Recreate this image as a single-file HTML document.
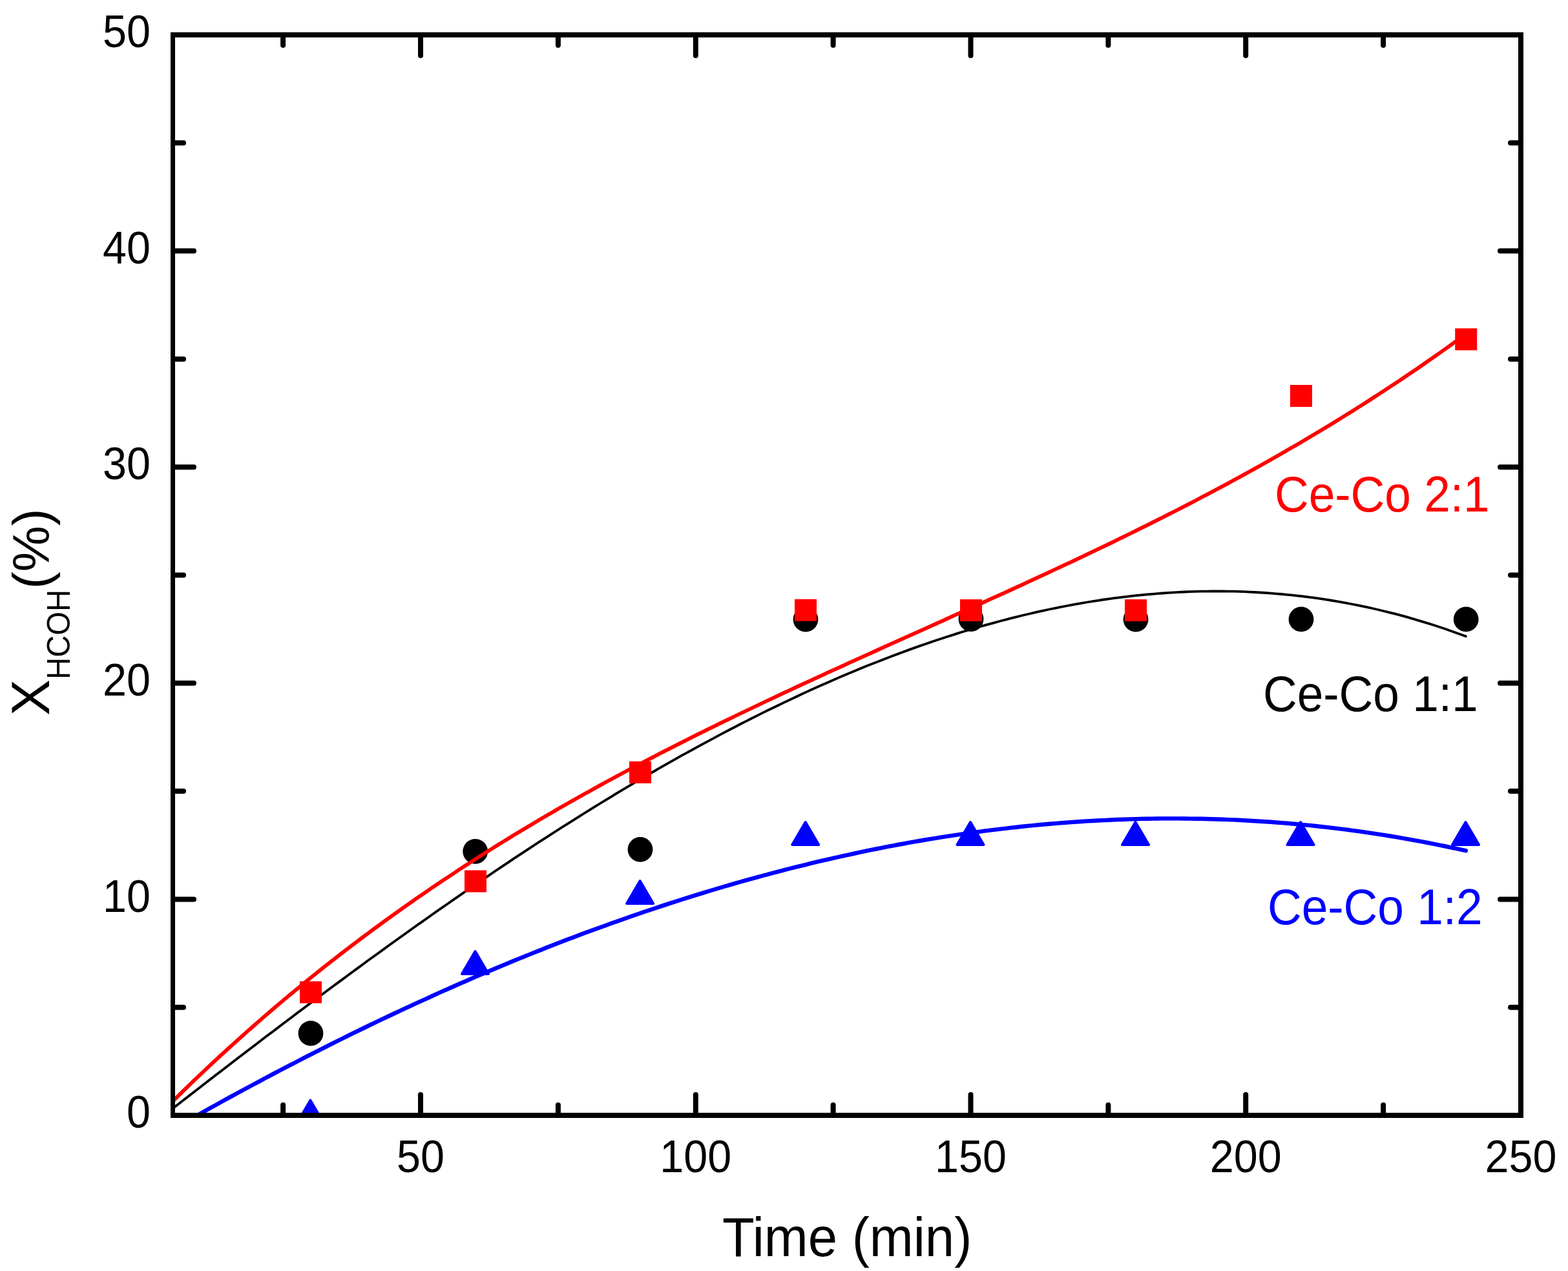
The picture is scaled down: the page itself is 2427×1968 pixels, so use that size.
<!DOCTYPE html>
<html><head><meta charset="utf-8"><title>X HCOH vs Time</title>
<style>
html,body{margin:0;padding:0;background:#fff;}
svg{display:block;}
text{font-family:"Liberation Sans",Arial,sans-serif;}
</style></head><body>
<svg width="2427" height="1968" viewBox="0 0 2427 1968">
<rect width="2427" height="1968" fill="#fff"/>
<defs><clipPath id="pa"><rect x="271" y="58" width="2079" height="1665"/></clipPath></defs>

<g clip-path="url(#pa)">
<circle cx="481" cy="1600" r="19.4" fill="#000"/>
<circle cx="735.7" cy="1318.3" r="19.4" fill="#000"/>
<circle cx="991" cy="1315.4" r="19.4" fill="#000"/>
<circle cx="1247" cy="959" r="19.4" fill="#000"/>
<circle cx="1503" cy="958.5" r="19.4" fill="#000"/>
<circle cx="1758" cy="959" r="19.4" fill="#000"/>
<circle cx="2014" cy="958.9" r="19.4" fill="#000"/>
<circle cx="2269.2" cy="958.9" r="19.4" fill="#000"/>
<path d="M267.5,1716.2 L275.9,1709.7 L284.2,1703.2 L292.6,1696.7 L301.0,1690.2 L309.4,1683.7 L317.7,1677.3 L326.1,1670.8 L334.5,1664.3 L342.8,1657.9 L351.2,1651.4 L359.6,1645.0 L368.0,1638.6 L376.3,1632.2 L384.7,1625.7 L393.1,1619.4 L401.5,1613.0 L409.8,1606.6 L418.2,1600.2 L426.6,1593.9 L435.0,1587.5 L443.3,1581.2 L451.7,1574.9 L460.1,1568.6 L468.5,1562.3 L476.8,1556.0 L485.2,1549.7 L493.6,1543.5 L502.0,1537.2 L510.3,1531.0 L518.7,1524.8 L527.1,1518.6 L535.4,1512.4 L543.8,1506.3 L552.2,1500.1 L560.6,1494.0 L568.9,1487.8 L577.3,1481.7 L585.7,1475.7 L594.1,1469.6 L602.4,1463.5 L610.8,1457.5 L619.2,1451.5 L627.6,1445.5 L635.9,1439.5 L644.3,1433.5 L652.7,1427.6 L661.1,1421.7 L669.4,1415.8 L677.8,1409.9 L686.2,1404.0 L694.6,1398.2 L702.9,1392.4 L711.3,1386.6 L719.7,1380.8 L728.0,1375.0 L736.4,1369.3 L744.8,1363.6 L753.2,1357.9 L761.5,1352.2 L769.9,1346.5 L778.3,1340.9 L786.7,1335.3 L795.0,1329.7 L803.4,1324.2 L811.8,1318.7 L820.2,1313.2 L828.5,1307.7 L836.9,1302.2 L845.3,1296.8 L853.7,1291.4 L862.0,1286.0 L870.4,1280.7 L878.8,1275.3 L887.2,1270.1 L895.5,1264.8 L903.9,1259.5 L912.3,1254.3 L920.6,1249.1 L929.0,1244.0 L937.4,1238.9 L945.8,1233.8 L954.1,1228.7 L962.5,1223.6 L970.9,1218.6 L979.3,1213.7 L987.6,1208.7 L996.0,1203.8 L1004.4,1198.9 L1012.8,1194.0 L1021.1,1189.2 L1029.5,1184.4 L1037.9,1179.7 L1046.3,1174.9 L1054.6,1170.2 L1063.0,1165.6 L1071.4,1161.0 L1079.8,1156.4 L1088.1,1151.8 L1096.5,1147.3 L1104.9,1142.8 L1113.2,1138.3 L1121.6,1133.9 L1130.0,1129.5 L1138.4,1125.2 L1146.7,1120.8 L1155.1,1116.6 L1163.5,1112.3 L1171.9,1108.1 L1180.2,1103.9 L1188.6,1099.8 L1197.0,1095.7 L1205.4,1091.7 L1213.7,1087.6 L1222.1,1083.7 L1230.5,1079.7 L1238.9,1075.8 L1247.2,1071.9 L1255.6,1068.1 L1264.0,1064.3 L1272.4,1060.6 L1280.7,1056.9 L1289.1,1053.2 L1297.5,1049.6 L1305.8,1046.0 L1314.2,1042.5 L1322.6,1039.0 L1331.0,1035.5 L1339.3,1032.1 L1347.7,1028.8 L1356.1,1025.4 L1364.5,1022.2 L1372.8,1018.9 L1381.2,1015.7 L1389.6,1012.6 L1398.0,1009.5 L1406.3,1006.4 L1414.7,1003.4 L1423.1,1000.4 L1431.5,997.5 L1439.8,994.6 L1448.2,991.8 L1456.6,989.0 L1465.0,986.3 L1473.3,983.6 L1481.7,980.9 L1490.1,978.3 L1498.4,975.8 L1506.8,973.3 L1515.2,970.8 L1523.6,968.4 L1531.9,966.1 L1540.3,963.8 L1548.7,961.5 L1557.1,959.3 L1565.4,957.2 L1573.8,955.1 L1582.2,953.0 L1590.6,951.0 L1598.9,949.1 L1607.3,947.2 L1615.7,945.3 L1624.1,943.5 L1632.4,941.8 L1640.8,940.1 L1649.2,938.5 L1657.6,936.9 L1665.9,935.4 L1674.3,933.9 L1682.7,932.5 L1691.0,931.1 L1699.4,929.8 L1707.8,928.5 L1716.2,927.3 L1724.5,926.2 L1732.9,925.1 L1741.3,924.1 L1749.7,923.1 L1758.0,922.2 L1766.4,921.3 L1774.8,920.5 L1783.2,919.8 L1791.5,919.1 L1799.9,918.5 L1808.3,917.9 L1816.7,917.4 L1825.0,916.9 L1833.4,916.5 L1841.8,916.2 L1850.2,915.9 L1858.5,915.7 L1866.9,915.6 L1875.3,915.5 L1883.6,915.4 L1892.0,915.5 L1900.4,915.6 L1908.8,915.7 L1917.1,915.9 L1925.5,916.2 L1933.9,916.6 L1942.3,917.0 L1950.6,917.5 L1959.0,918.0 L1967.4,918.6 L1975.8,919.3 L1984.1,920.0 L1992.5,920.8 L2000.9,921.6 L2009.3,922.6 L2017.6,923.5 L2026.0,924.6 L2034.4,925.7 L2042.8,926.9 L2051.1,928.2 L2059.5,929.5 L2067.9,930.9 L2076.2,932.3 L2084.6,933.9 L2093.0,935.5 L2101.4,937.1 L2109.7,938.9 L2118.1,940.7 L2126.5,942.5 L2134.9,944.5 L2143.2,946.5 L2151.6,948.6 L2160.0,950.7 L2168.4,952.9 L2176.7,955.2 L2185.1,957.6 L2193.5,960.1 L2201.9,962.6 L2210.2,965.1 L2218.6,967.8 L2227.0,970.5 L2235.4,973.3 L2243.7,976.2 L2252.1,979.2 L2260.5,982.2 L2268.9,985.3" fill="none" stroke="#000" stroke-width="3.8" stroke-linejoin="round" stroke-linecap="round"/>
<path d="M267.5,1705.0 L275.9,1696.8 L284.2,1688.6 L292.6,1680.5 L301.0,1672.4 L309.4,1664.5 L317.7,1656.5 L326.1,1648.7 L334.5,1640.9 L342.8,1633.1 L351.2,1625.5 L359.6,1617.8 L368.0,1610.3 L376.3,1602.8 L384.7,1595.3 L393.1,1588.0 L401.5,1580.6 L409.8,1573.4 L418.2,1566.2 L426.6,1559.0 L435.0,1551.9 L443.3,1544.9 L451.7,1537.9 L460.1,1531.0 L468.5,1524.1 L476.8,1517.3 L485.2,1510.5 L493.6,1503.8 L502.0,1497.1 L510.3,1490.5 L518.7,1484.0 L527.1,1477.4 L535.4,1471.0 L543.8,1464.6 L552.2,1458.2 L560.6,1451.9 L568.9,1445.7 L577.3,1439.4 L585.7,1433.3 L594.1,1427.2 L602.4,1421.1 L610.8,1415.1 L619.2,1409.1 L627.6,1403.2 L635.9,1397.3 L644.3,1391.4 L652.7,1385.6 L661.1,1379.9 L669.4,1374.2 L677.8,1368.5 L686.2,1362.9 L694.6,1357.3 L702.9,1351.8 L711.3,1346.2 L719.7,1340.8 L728.0,1335.4 L736.4,1330.0 L744.8,1324.6 L753.2,1319.3 L761.5,1314.1 L769.9,1308.8 L778.3,1303.6 L786.7,1298.5 L795.0,1293.3 L803.4,1288.3 L811.8,1283.2 L820.2,1278.2 L828.5,1273.2 L836.9,1268.3 L845.3,1263.3 L853.7,1258.5 L862.0,1253.6 L870.4,1248.8 L878.8,1244.0 L887.2,1239.2 L895.5,1234.5 L903.9,1229.8 L912.3,1225.2 L920.6,1220.5 L929.0,1215.9 L937.4,1211.3 L945.8,1206.8 L954.1,1202.2 L962.5,1197.7 L970.9,1193.3 L979.3,1188.8 L987.6,1184.4 L996.0,1180.0 L1004.4,1175.6 L1012.8,1171.3 L1021.1,1166.9 L1029.5,1162.6 L1037.9,1158.3 L1046.3,1154.1 L1054.6,1149.8 L1063.0,1145.6 L1071.4,1141.4 L1079.8,1137.2 L1088.1,1133.1 L1096.5,1128.9 L1104.9,1124.8 L1113.2,1120.7 L1121.6,1116.6 L1130.0,1112.6 L1138.4,1108.5 L1146.7,1104.5 L1155.1,1100.5 L1163.5,1096.5 L1171.9,1092.5 L1180.2,1088.5 L1188.6,1084.5 L1197.0,1080.6 L1205.4,1076.6 L1213.7,1072.7 L1222.1,1068.8 L1230.5,1064.9 L1238.9,1061.0 L1247.2,1057.1 L1255.6,1053.3 L1264.0,1049.4 L1272.4,1045.6 L1280.7,1041.7 L1289.1,1037.9 L1297.5,1034.1 L1305.8,1030.3 L1314.2,1026.4 L1322.6,1022.6 L1331.0,1018.8 L1339.3,1015.1 L1347.7,1011.3 L1356.1,1007.5 L1364.5,1003.7 L1372.8,999.9 L1381.2,996.2 L1389.6,992.4 L1398.0,988.6 L1406.3,984.8 L1414.7,981.1 L1423.1,977.3 L1431.5,973.6 L1439.8,969.8 L1448.2,966.0 L1456.6,962.3 L1465.0,958.5 L1473.3,954.7 L1481.7,950.9 L1490.1,947.2 L1498.4,943.4 L1506.8,939.6 L1515.2,935.8 L1523.6,932.0 L1531.9,928.2 L1540.3,924.4 L1548.7,920.6 L1557.1,916.8 L1565.4,913.0 L1573.8,909.1 L1582.2,905.3 L1590.6,901.4 L1598.9,897.6 L1607.3,893.7 L1615.7,889.8 L1624.1,885.9 L1632.4,882.0 L1640.8,878.1 L1649.2,874.2 L1657.6,870.3 L1665.9,866.3 L1674.3,862.4 L1682.7,858.4 L1691.0,854.4 L1699.4,850.4 L1707.8,846.4 L1716.2,842.3 L1724.5,838.3 L1732.9,834.2 L1741.3,830.1 L1749.7,826.0 L1758.0,821.9 L1766.4,817.7 L1774.8,813.6 L1783.2,809.4 L1791.5,805.2 L1799.9,801.0 L1808.3,796.7 L1816.7,792.5 L1825.0,788.2 L1833.4,783.9 L1841.8,779.6 L1850.2,775.2 L1858.5,770.8 L1866.9,766.4 L1875.3,762.0 L1883.6,757.5 L1892.0,753.1 L1900.4,748.6 L1908.8,744.0 L1917.1,739.5 L1925.5,734.9 L1933.9,730.3 L1942.3,725.6 L1950.6,721.0 L1959.0,716.3 L1967.4,711.5 L1975.8,706.8 L1984.1,702.0 L1992.5,697.1 L2000.9,692.3 L2009.3,687.4 L2017.6,682.5 L2026.0,677.5 L2034.4,672.5 L2042.8,667.5 L2051.1,662.5 L2059.5,657.4 L2067.9,652.3 L2076.2,647.1 L2084.6,641.9 L2093.0,636.7 L2101.4,631.4 L2109.7,626.1 L2118.1,620.7 L2126.5,615.3 L2134.9,609.9 L2143.2,604.4 L2151.6,598.9 L2160.0,593.4 L2168.4,587.8 L2176.7,582.2 L2185.1,576.5 L2193.5,570.8 L2201.9,565.0 L2210.2,559.2 L2218.6,553.4 L2227.0,547.5 L2235.4,541.5 L2243.7,535.6 L2252.1,529.5 L2260.5,523.5 L2268.9,517.3" fill="none" stroke="#f00" stroke-width="5.8" stroke-linejoin="round" stroke-linecap="round"/>
<rect x="464.0" y="1519.4" width="34" height="34" fill="#f00"/>
<rect x="719.0" y="1347.5" width="34" height="34" fill="#f00"/>
<rect x="974.0" y="1178.9" width="34" height="34" fill="#f00"/>
<rect x="1230.0" y="927.7" width="34" height="34" fill="#f00"/>
<rect x="1486.0" y="928.0" width="34" height="34" fill="#f00"/>
<rect x="1741.0" y="928.0" width="34" height="34" fill="#f00"/>
<rect x="1996.9" y="596.0" width="34" height="34" fill="#f00"/>
<rect x="2252.2" y="508.4" width="34" height="34" fill="#f00"/>
<path d="M267.5,1748.3 L275.9,1743.6 L284.2,1738.8 L292.6,1734.1 L301.0,1729.4 L309.4,1724.7 L317.7,1720.0 L326.1,1715.3 L334.5,1710.7 L342.8,1706.0 L351.2,1701.4 L359.6,1696.9 L368.0,1692.3 L376.3,1687.8 L384.7,1683.2 L393.1,1678.7 L401.5,1674.3 L409.8,1669.8 L418.2,1665.4 L426.6,1660.9 L435.0,1656.5 L443.3,1652.2 L451.7,1647.8 L460.1,1643.5 L468.5,1639.1 L476.8,1634.8 L485.2,1630.6 L493.6,1626.3 L502.0,1622.1 L510.3,1617.9 L518.7,1613.7 L527.1,1609.5 L535.4,1605.4 L543.8,1601.2 L552.2,1597.1 L560.6,1593.0 L568.9,1589.0 L577.3,1584.9 L585.7,1580.9 L594.1,1576.9 L602.4,1573.0 L610.8,1569.0 L619.2,1565.1 L627.6,1561.2 L635.9,1557.3 L644.3,1553.4 L652.7,1549.6 L661.1,1545.8 L669.4,1542.0 L677.8,1538.2 L686.2,1534.4 L694.6,1530.7 L702.9,1527.0 L711.3,1523.3 L719.7,1519.7 L728.0,1516.0 L736.4,1512.4 L744.8,1508.8 L753.2,1505.3 L761.5,1501.7 L769.9,1498.2 L778.3,1494.7 L786.7,1491.2 L795.0,1487.8 L803.4,1484.4 L811.8,1481.0 L820.2,1477.6 L828.5,1474.2 L836.9,1470.9 L845.3,1467.6 L853.7,1464.3 L862.0,1461.1 L870.4,1457.8 L878.8,1454.6 L887.2,1451.4 L895.5,1448.3 L903.9,1445.1 L912.3,1442.0 L920.6,1438.9 L929.0,1435.9 L937.4,1432.9 L945.8,1429.8 L954.1,1426.9 L962.5,1423.9 L970.9,1421.0 L979.3,1418.1 L987.6,1415.2 L996.0,1412.3 L1004.4,1409.5 L1012.8,1406.7 L1021.1,1403.9 L1029.5,1401.1 L1037.9,1398.4 L1046.3,1395.7 L1054.6,1393.0 L1063.0,1390.4 L1071.4,1387.7 L1079.8,1385.1 L1088.1,1382.6 L1096.5,1380.0 L1104.9,1377.5 L1113.2,1375.0 L1121.6,1372.5 L1130.0,1370.1 L1138.4,1367.7 L1146.7,1365.3 L1155.1,1362.9 L1163.5,1360.6 L1171.9,1358.3 L1180.2,1356.0 L1188.6,1353.8 L1197.0,1351.5 L1205.4,1349.3 L1213.7,1347.2 L1222.1,1345.0 L1230.5,1342.9 L1238.9,1340.8 L1247.2,1338.8 L1255.6,1336.7 L1264.0,1334.7 L1272.4,1332.7 L1280.7,1330.8 L1289.1,1328.9 L1297.5,1327.0 L1305.8,1325.1 L1314.2,1323.3 L1322.6,1321.5 L1331.0,1319.7 L1339.3,1317.9 L1347.7,1316.2 L1356.1,1314.5 L1364.5,1312.8 L1372.8,1311.2 L1381.2,1309.6 L1389.6,1308.0 L1398.0,1306.5 L1406.3,1304.9 L1414.7,1303.4 L1423.1,1302.0 L1431.5,1300.5 L1439.8,1299.1 L1448.2,1297.8 L1456.6,1296.4 L1465.0,1295.1 L1473.3,1293.8 L1481.7,1292.6 L1490.1,1291.3 L1498.4,1290.1 L1506.8,1289.0 L1515.2,1287.8 L1523.6,1286.7 L1531.9,1285.6 L1540.3,1284.6 L1548.7,1283.6 L1557.1,1282.6 L1565.4,1281.6 L1573.8,1280.7 L1582.2,1279.8 L1590.6,1278.9 L1598.9,1278.1 L1607.3,1277.3 L1615.7,1276.5 L1624.1,1275.8 L1632.4,1275.1 L1640.8,1274.4 L1649.2,1273.7 L1657.6,1273.1 L1665.9,1272.5 L1674.3,1272.0 L1682.7,1271.4 L1691.0,1271.0 L1699.4,1270.5 L1707.8,1270.1 L1716.2,1269.7 L1724.5,1269.3 L1732.9,1269.0 L1741.3,1268.7 L1749.7,1268.4 L1758.0,1268.2 L1766.4,1267.9 L1774.8,1267.8 L1783.2,1267.6 L1791.5,1267.5 L1799.9,1267.4 L1808.3,1267.4 L1816.7,1267.4 L1825.0,1267.4 L1833.4,1267.5 L1841.8,1267.6 L1850.2,1267.7 L1858.5,1267.8 L1866.9,1268.0 L1875.3,1268.2 L1883.6,1268.5 L1892.0,1268.8 L1900.4,1269.1 L1908.8,1269.4 L1917.1,1269.8 L1925.5,1270.2 L1933.9,1270.7 L1942.3,1271.2 L1950.6,1271.7 L1959.0,1272.3 L1967.4,1272.8 L1975.8,1273.5 L1984.1,1274.1 L1992.5,1274.8 L2000.9,1275.5 L2009.3,1276.3 L2017.6,1277.1 L2026.0,1277.9 L2034.4,1278.8 L2042.8,1279.7 L2051.1,1280.6 L2059.5,1281.6 L2067.9,1282.6 L2076.2,1283.6 L2084.6,1284.7 L2093.0,1285.8 L2101.4,1286.9 L2109.7,1288.1 L2118.1,1289.3 L2126.5,1290.6 L2134.9,1291.8 L2143.2,1293.2 L2151.6,1294.5 L2160.0,1295.9 L2168.4,1297.3 L2176.7,1298.8 L2185.1,1300.3 L2193.5,1301.8 L2201.9,1303.4 L2210.2,1305.0 L2218.6,1306.6 L2227.0,1308.3 L2235.4,1310.0 L2243.7,1311.8 L2252.1,1313.5 L2260.5,1315.4 L2268.9,1317.2" fill="none" stroke="#00f" stroke-width="6.4" stroke-linejoin="round" stroke-linecap="round"/>
<path d="M480.4,1703.7 L500.9,1738.7 L459.9,1738.7 Z" fill="#00f" stroke="#00f" stroke-width="4" stroke-linejoin="round"/>
<path d="M735.5,1473.0 L756.0,1508.0 L715.0,1508.0 Z" fill="#00f" stroke="#00f" stroke-width="4" stroke-linejoin="round"/>
<path d="M990.6,1364.0 L1011.1,1399.0 L970.1,1399.0 Z" fill="#00f" stroke="#00f" stroke-width="4" stroke-linejoin="round"/>
<path d="M1246.7,1273.0 L1267.2,1308.0 L1226.2,1308.0 Z" fill="#00f" stroke="#00f" stroke-width="4" stroke-linejoin="round"/>
<path d="M1502.0,1273.0 L1522.5,1308.0 L1481.5,1308.0 Z" fill="#00f" stroke="#00f" stroke-width="4" stroke-linejoin="round"/>
<path d="M1757.5,1273.0 L1778.0,1308.0 L1737.0,1308.0 Z" fill="#00f" stroke="#00f" stroke-width="4" stroke-linejoin="round"/>
<path d="M2013.0,1273.0 L2033.5,1308.0 L1992.5,1308.0 Z" fill="#00f" stroke="#00f" stroke-width="4" stroke-linejoin="round"/>
<path d="M2268.5,1273.0 L2289.0,1308.0 L2248.0,1308.0 Z" fill="#00f" stroke="#00f" stroke-width="4" stroke-linejoin="round"/>
</g>
<g fill="#000">
<rect x="264" y="50" width="2094" height="8"/>
<rect x="264" y="1723" width="2094" height="8"/>
<rect x="264" y="50" width="7" height="1681"/>
<rect x="2350" y="50" width="8" height="1681"/>
</g>
<g stroke="#000" stroke-width="8" stroke-linecap="round">
<line x1="438.1" y1="54" x2="438.1" y2="70"/>
<line x1="438.1" y1="1727" x2="438.1" y2="1711"/>
<line x1="651.0" y1="54" x2="651.0" y2="86"/>
<line x1="651.0" y1="1727" x2="651.0" y2="1695"/>
<line x1="863.9" y1="54" x2="863.9" y2="70"/>
<line x1="863.9" y1="1727" x2="863.9" y2="1711"/>
<line x1="1076.8" y1="54" x2="1076.8" y2="86"/>
<line x1="1076.8" y1="1727" x2="1076.8" y2="1695"/>
<line x1="1289.6" y1="54" x2="1289.6" y2="70"/>
<line x1="1289.6" y1="1727" x2="1289.6" y2="1711"/>
<line x1="1502.5" y1="54" x2="1502.5" y2="86"/>
<line x1="1502.5" y1="1727" x2="1502.5" y2="1695"/>
<line x1="1715.4" y1="54" x2="1715.4" y2="70"/>
<line x1="1715.4" y1="1727" x2="1715.4" y2="1711"/>
<line x1="1928.2" y1="54" x2="1928.2" y2="86"/>
<line x1="1928.2" y1="1727" x2="1928.2" y2="1695"/>
<line x1="2141.1" y1="54" x2="2141.1" y2="70"/>
<line x1="2141.1" y1="1727" x2="2141.1" y2="1711"/>
<line x1="268.5" y1="1559.7" x2="284" y2="1559.7"/>
<line x1="2354" y1="1559.7" x2="2338" y2="1559.7"/>
<line x1="268.5" y1="1392.4" x2="300" y2="1392.4"/>
<line x1="2354" y1="1392.4" x2="2322" y2="1392.4"/>
<line x1="268.5" y1="1225.1" x2="284" y2="1225.1"/>
<line x1="2354" y1="1225.1" x2="2338" y2="1225.1"/>
<line x1="268.5" y1="1057.8" x2="300" y2="1057.8"/>
<line x1="2354" y1="1057.8" x2="2322" y2="1057.8"/>
<line x1="268.5" y1="890.5" x2="284" y2="890.5"/>
<line x1="2354" y1="890.5" x2="2338" y2="890.5"/>
<line x1="268.5" y1="723.2" x2="300" y2="723.2"/>
<line x1="2354" y1="723.2" x2="2322" y2="723.2"/>
<line x1="268.5" y1="555.9" x2="284" y2="555.9"/>
<line x1="2354" y1="555.9" x2="2338" y2="555.9"/>
<line x1="268.5" y1="388.6" x2="300" y2="388.6"/>
<line x1="2354" y1="388.6" x2="2322" y2="388.6"/>
<line x1="268.5" y1="221.3" x2="284" y2="221.3"/>
<line x1="2354" y1="221.3" x2="2338" y2="221.3"/>
</g>
<text transform="translate(651.0,1814.5) scale(1,1.065)" font-size="66.5" text-anchor="middle" fill="#000">50</text>
<text transform="translate(1076.8,1814.5) scale(1,1.065)" font-size="66.5" text-anchor="middle" fill="#000">100</text>
<text transform="translate(1502.5,1814.5) scale(1,1.065)" font-size="66.5" text-anchor="middle" fill="#000">150</text>
<text transform="translate(1928.2,1814.5) scale(1,1.065)" font-size="66.5" text-anchor="middle" fill="#000">200</text>
<text transform="translate(2354.0,1814.5) scale(1,1.065)" font-size="66.5" text-anchor="middle" fill="#000">250</text>
<text transform="translate(233,1746.1) scale(1,1.065)" font-size="66.5" text-anchor="end" fill="#000">0</text>
<text transform="translate(233,1411.5) scale(1,1.065)" font-size="66.5" text-anchor="end" fill="#000">10</text>
<text transform="translate(233,1076.9) scale(1,1.065)" font-size="66.5" text-anchor="end" fill="#000">20</text>
<text transform="translate(233,742.3) scale(1,1.065)" font-size="66.5" text-anchor="end" fill="#000">30</text>
<text transform="translate(233,407.7) scale(1,1.065)" font-size="66.5" text-anchor="end" fill="#000">40</text>
<text transform="translate(233,73.1) scale(1,1.065)" font-size="66.5" text-anchor="end" fill="#000">50</text>
<text transform="translate(1118,1945) scale(1,1.048)" font-size="81.5" fill="#000">Time (min)</text>
<text transform="translate(76,1108) rotate(-90) scale(1,1.0)" font-size="84" fill="#000">X</text>
<text transform="translate(108,1052) rotate(-90) scale(1,1.04)" font-size="47.3" fill="#000">HCOH</text>
<text transform="translate(76,912) rotate(-90)" font-size="80" fill="#000">(%)</text>
<text transform="translate(1973,791.9) scale(1,1.06)" font-size="73" fill="#f00">Ce-Co 2:1</text>
<text transform="translate(1955,1100.6) scale(1,1.06)" font-size="73" fill="#000">Ce-Co 1:1</text>
<text transform="translate(1962,1430.5) scale(1,1.06)" font-size="73" fill="#00f">Ce-Co 1:2</text>
</svg></body></html>
